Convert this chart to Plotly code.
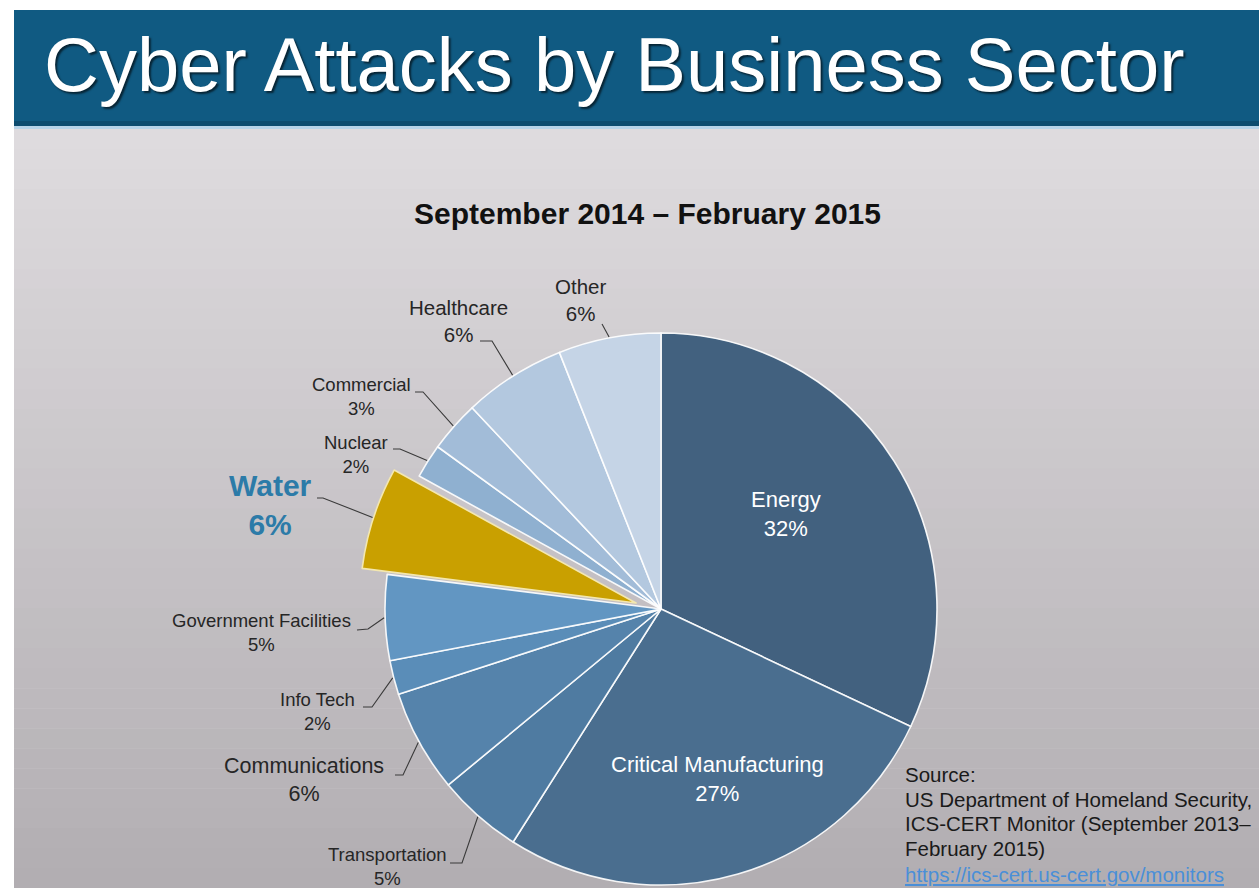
import numpy as np
import plotly.graph_objects as go

# ---------------- data ----------------
sectors = ["Energy", "Critical Manufacturing", "Transportation", "Communications",
           "Info Tech", "Government Facilities", "Water", "Nuclear", "Commercial",
           "Healthcare", "Other"]
percent = [32, 27, 5, 6, 2, 5, 6, 2, 3, 6, 6]
slice_colors = ["#42617F", "#4A6E8F", "#4F7BA1", "#5583AB", "#5A8DB8", "#6296C2",
                "#C9A000", "#8FB0D0", "#A2BCD8", "#B3C8DF", "#C5D4E6"]
highlight = "Water"

title_text = "Cyber Attacks by Business Sector"
subtitle_text = "September 2014 \u2013 February 2015"
source_lines = ["Source:", "US Department of Homeland Security,",
                "ICS-CERT Monitor (September 2013\u2013", "February 2015)"]
source_url = "https://ics-cert.us-cert.gov/monitors"

# ---------------- layout helpers (pixels -> paper) ----------------
W, H = 1259, 888
FONT = "Liberation Sans, Arial, sans-serif"


def px(x):
    return x / W


def py(y):
    return 1 - y / H


CX, CY, R = 661, 609, 276          # pie centre / radius in px
PULL_DX, PULL_DY = -25, -6         # offset of the exploded slice

# label block centres, font sizes and leader-line elbows (px)
label_style = {
    "Energy": dict(x=786, y=514, size=22, color="white", elbow=None),
    "Critical Manufacturing": dict(x=717, y=779, size=22, color="white", elbow=None),
    "Transportation": dict(x=387, y=866, size=18.5, color="#262626", elbow=[(450, 863), (462, 863)]),
    "Communications": dict(x=304, y=780, size=21.5, color="#262626", elbow=[(395, 775), (403, 775)]),
    "Info Tech": dict(x=318, y=711, size=18.5, color="#262626", elbow=[(363, 707), (372, 707)]),
    "Government Facilities": dict(x=261, y=632, size=18.5, color="#262626", elbow=[(357, 630), (368, 629)]),
    "Water": dict(x=270, y=505, size=30, color="#2C7BA8", elbow=[(317, 498), (323, 498)], bold=True),
    "Nuclear": dict(x=356, y=454, size=18.5, color="#262626", elbow=[(393, 449), (400, 449)]),
    "Commercial": dict(x=361, y=396, size=18.5, color="#262626", elbow=[(415, 392), (423, 392)]),
    "Healthcare": dict(x=458, y=321, size=20.5, color="#262626", elbow=[(480, 341), (492, 341)]),
    "Other": dict(x=580, y=300, size=20.5, color="#262626", elbow=[(602, 324)]),
}

fig = go.Figure()

# main pie (highlighted slice left empty)
main_colors = [("rgba(0,0,0,0)" if s == highlight else c) for s, c in zip(sectors, slice_colors)]
main_lines = [("rgba(0,0,0,0)" if s == highlight else "rgba(255,255,255,0.9)") for s in sectors]
fig.add_trace(go.Pie(
    labels=sectors, values=percent, sort=False, direction="clockwise", rotation=0,
    marker=dict(colors=main_colors, line=dict(color=main_lines, width=1.6)),
    textinfo="none", hoverinfo="skip", showlegend=False,
    domain=dict(x=[px(CX - R), px(CX + R)], y=[py(CY + R), py(CY - R)]),
))

# exploded slice, drawn as the same pie shifted outwards
hl_colors = [(c if s == highlight else "rgba(0,0,0,0)") for s, c in zip(sectors, slice_colors)]
hl_lines = [("#F3E7B0" if s == highlight else "rgba(0,0,0,0)") for s in sectors]
hx, hy = CX + PULL_DX, CY + PULL_DY
fig.add_trace(go.Pie(
    labels=sectors, values=percent, sort=False, direction="clockwise", rotation=0,
    marker=dict(colors=hl_colors, line=dict(color=hl_lines, width=1.6)),
    textinfo="none", hoverinfo="skip", showlegend=False,
    domain=dict(x=[px(hx - R), px(hx + R)], y=[py(hy + R), py(hy - R)]),
))

shapes = []
# background
shapes.append(dict(type="rect", xref="paper", yref="paper", x0=px(14), x1=1, y0=py(126), y1=py(10),
                   fillcolor="#105A82", line_width=0, layer="below"))
shapes.append(dict(type="rect", xref="paper", yref="paper", x0=px(14), x1=1, y0=py(126), y1=py(121),
                   fillcolor="#0D4C6F", line_width=0, layer="below"))
shapes.append(dict(type="rect", xref="paper", yref="paper", x0=px(14), x1=1, y0=py(129), y1=py(126),
                   fillcolor="#B7D3E8", line_width=0, layer="below"))
top_c = np.array([222, 219, 222])
bot_c = np.array([178, 174, 178])
n_bands = 38
edges = np.linspace(129, 888, n_bands + 1)
for i in range(n_bands):
    t = i / (n_bands - 1)
    c = (top_c + (bot_c - top_c) * t).round().astype(int)
    shapes.append(dict(type="rect", xref="paper", yref="paper", x0=px(14), x1=1,
                       y0=py(edges[i + 1] + 0.6), y1=py(edges[i]),
                       fillcolor=f"rgb({c[0]},{c[1]},{c[2]})", line_width=0, layer="below"))

# leader lines, ending at each slice's mid-angle on the rim
vals = np.array(percent, dtype=float)
start = np.concatenate([[0], np.cumsum(vals)[:-1]])
mid_deg = (start + vals / 2) / vals.sum() * 360
annotations = []
for s, v, a in zip(sectors, percent, mid_deg):
    st = label_style[s]
    cx, cy = (hx, hy) if s == highlight else (CX, CY)
    ex = cx + (R + 1) * np.sin(np.radians(a))
    ey = cy - (R + 1) * np.cos(np.radians(a))
    if st["elbow"]:
        pts = st["elbow"] + [(ex, ey)]
        path = "M " + " L ".join(f"{px(x):.5f},{py(y):.5f}" for x, y in pts)
        shapes.append(dict(type="path", xref="paper", yref="paper", path=path,
                           line=dict(color="#3A3A3A", width=1.1), layer="above"))
    txt = f"{s}<br>{v}%"
    if st.get("bold"):
        txt = f"<b>{s}</b><br><b>{v}%</b>"
    annotations.append(dict(x=px(st["x"]), y=py(st["y"]), xref="paper", yref="paper",
                            text=txt, showarrow=False, xanchor="center", yanchor="middle",
                            align="center", font=dict(family=FONT, size=st["size"], color=st["color"])))

# title, subtitle, source
annotations.append(dict(x=px(42), y=py(64), xref="paper", yref="paper", text=title_text,
                        showarrow=False, xanchor="left", yanchor="middle",
                        font=dict(family=FONT, size=76, color="white",
                                  shadow="2px 2px 2px rgba(0,0,0,0.6)")))
annotations.append(dict(x=px(648), y=py(214), xref="paper", yref="paper",
                        text=f"<b>{subtitle_text}</b>", showarrow=False,
                        xanchor="center", yanchor="middle",
                        font=dict(family=FONT, size=30, color="#111111")))
src_y = [774, 799, 823, 848]
for line, yy in zip(source_lines, src_y):
    annotations.append(dict(x=px(903), y=py(yy), xref="paper", yref="paper", text=line,
                            showarrow=False, xanchor="left", yanchor="middle",
                            font=dict(family=FONT, size=20.5, color="#1A1A1A")))
annotations.append(dict(x=px(903), y=py(874), xref="paper", yref="paper",
                        text=f"<span style='text-decoration:underline'>{source_url}</span>",
                        showarrow=False, xanchor="left", yanchor="middle",
                        font=dict(family=FONT, size=20.5, color="#4A8FD8")))

fig.update_layout(
    width=W, height=H, margin=dict(l=0, r=0, t=0, b=0),
    paper_bgcolor="white", plot_bgcolor="white",
    shapes=shapes, annotations=annotations, showlegend=False,
)

fig.write_html("out.html", config={"displayModeBar": False})
